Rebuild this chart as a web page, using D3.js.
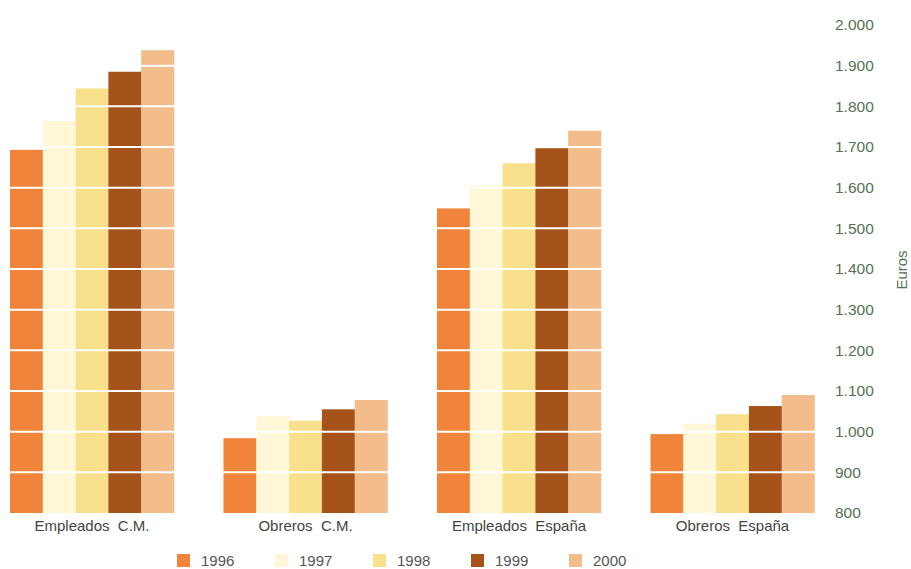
<!DOCTYPE html>
<html><head><meta charset="utf-8">
<script src="https://cdn.jsdelivr.net/npm/d3@7"></script>
<style>body{margin:0;background:#fff}svg{display:block;font-family:"Liberation Sans",Arial,sans-serif}</style>
</head><body>
<script>
const categories = ["Empleados  C.M.", "Obreros  C.M.", "Empleados  España", "Obreros  España"];
const years = ["1996", "1997", "1998", "1999", "2000"];
const v1996 = [1693, 984, 1549, 994];
const v1997 = [1764, 1038, 1606, 1020];
const v1998 = [1844, 1027, 1660, 1043];
const v1999 = [1885, 1055, 1697, 1063];
const v2000 = [1938, 1078, 1740, 1090];
const tickValues = [800, 900, 1000, 1100, 1200, 1300, 1400, 1500, 1600, 1700, 1800, 1900, 2000];
const colors = ["#f0843a", "#fff8d8", "#f9e08c", "#a5531b", "#f2bd8b"];

const series = [v1996, v1997, v1998, v1999, v2000];
const W = 911, H = 569;
const svg = d3.select("body").append("svg").attr("width", W).attr("height", H);

const x0 = d3.scaleBand().domain(categories).range([0, 824.5]).paddingInner(0.232).paddingOuter(0.0468);
const x1 = d3.scaleBand().domain(years).range([0, x0.bandwidth()]);
const y = d3.scaleLinear().domain([800, 2000]).range([513, 25]);
const color = d3.scaleOrdinal().domain(years).range(colors);

const g = svg.append("g");
categories.forEach((c, ci) => {
  g.selectAll(null).data(years).enter().append("rect")
    .attr("x", yr => x0(c) + x1(yr))
    .attr("width", x1.bandwidth() + 0.3)
    .attr("y", (yr, i) => y(series[i][ci]))
    .attr("height", (yr, i) => y(800) - y(series[i][ci]))
    .attr("fill", yr => color(yr));
});

// white gridlines over bars
svg.append("g").selectAll("line").data(tickValues.slice(1)).enter().append("line")
  .attr("x1", 0).attr("x2", 824).attr("y1", d => y(d)).attr("y2", d => y(d))
  .attr("stroke", "#fff").attr("stroke-width", 2);

// right axis
const axis = d3.axisRight(y).tickValues(tickValues).tickSize(0).tickPadding(0)
  .tickFormat(d => d3.format(",")(d).replace(/,/g, "."));
const ag = svg.append("g").attr("transform", "translate(835,0)").call(axis);
ag.select(".domain").remove();
ag.selectAll("text").attr("fill", "#557255").attr("font-size", 15.5)
  .attr("font-family", "'Liberation Sans',Arial,sans-serif");

svg.append("text").attr("transform", "translate(907,270) rotate(-90)")
  .attr("text-anchor", "middle").attr("fill", "#557255").attr("font-size", 15).text("Euros");

// category labels
const xAxis = d3.axisBottom(x0).tickSize(0).tickPadding(0);
const xg = svg.append("g").attr("transform", "translate(0,520)").call(xAxis);
xg.select(".domain").remove();
xg.selectAll("text").attr("fill", "#444").attr("font-size", 15).attr("dy", "0.75em")
  .attr("font-family", "'Liberation Sans',Arial,sans-serif").style("white-space", "pre");

// legend
const lx = d3.scalePoint().domain(years).range([177, 569]);
const lg = svg.append("g").selectAll("g").data(years).enter().append("g")
  .attr("transform", d => `translate(${lx(d)},554)`);
lg.append("rect").attr("width", 13).attr("height", 13).attr("fill", d => color(d));
lg.append("text").attr("x", 24).attr("y", 12).attr("font-size", 15).attr("fill", "#555").text(d => d);
</script>
</body></html>
